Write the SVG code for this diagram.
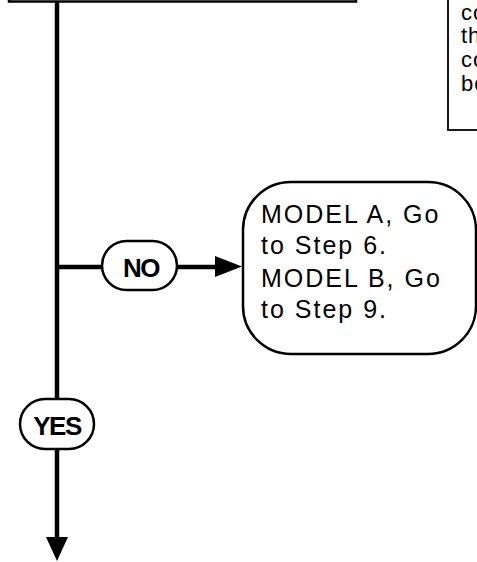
<svg xmlns="http://www.w3.org/2000/svg" width="477" height="562" viewBox="0 0 477 562">
<style>
.box{fill:#fff;stroke:#000;stroke-width:2.5}
.pill{fill:#fff;stroke:#000;stroke-width:2.5}
.txt{font-family:"Liberation Sans",Arial,sans-serif;font-size:25px;fill:#000;letter-spacing:2px}
.small{font-family:"Liberation Sans",Arial,sans-serif;font-size:22px;fill:#000;letter-spacing:1px}
.lbl{font-family:"Liberation Sans",Arial,sans-serif;font-size:26px;font-weight:bold;fill:#000;text-anchor:middle;letter-spacing:-1.5px}
.ln{stroke:#000;stroke-width:4.5;fill:none}
</style>
<g id="connectors">
<line class="ln" x1="57" y1="0" x2="57" y2="399"/>
<line class="ln" x1="57" y1="449" x2="57" y2="537"/>
<path d="M46,537 L68,537 L57,561 Z" fill="#000"/>
<line class="ln" x1="57" y1="267" x2="102" y2="267"/>
<line class="ln" x1="177" y1="267" x2="216" y2="267"/>
<path d="M215,256 L242,266.5 L215,277 Z" fill="#000"/>
</g>
<g id="top-box">
<rect class="box" x="9" y="-50" width="347" height="51.5"/>
</g>
<g id="note-box">
<rect x="448" y="-20" width="60" height="150" fill="#fff" stroke="#000" stroke-width="1.8"/>
<text class="small" x="461" y="20">co</text>
<text class="small" x="461" y="43">th</text>
<text class="small" x="461" y="67">co</text>
<text class="small" x="461" y="91">bo</text>
</g>
<g id="no-label">
<rect class="pill" x="102" y="241" width="75" height="49" rx="24.5"/>
<text class="lbl" x="141" y="277">NO</text>
</g>
<g id="yes-label">
<rect class="pill" x="20" y="399" width="74" height="50" rx="25"/>
<text class="lbl" x="57" y="435">YES</text>
</g>
<g id="step-box">
<rect class="box" x="243" y="182" width="233" height="172" rx="48" ry="48"/>
<text class="txt" x="261" y="223">MODEL A, Go</text>
<text class="txt" x="261" y="254">to Step 6.</text>
<text class="txt" x="261" y="287">MODEL B, Go</text>
<text class="txt" x="261" y="318">to Step 9.</text>
</g>
</svg>
